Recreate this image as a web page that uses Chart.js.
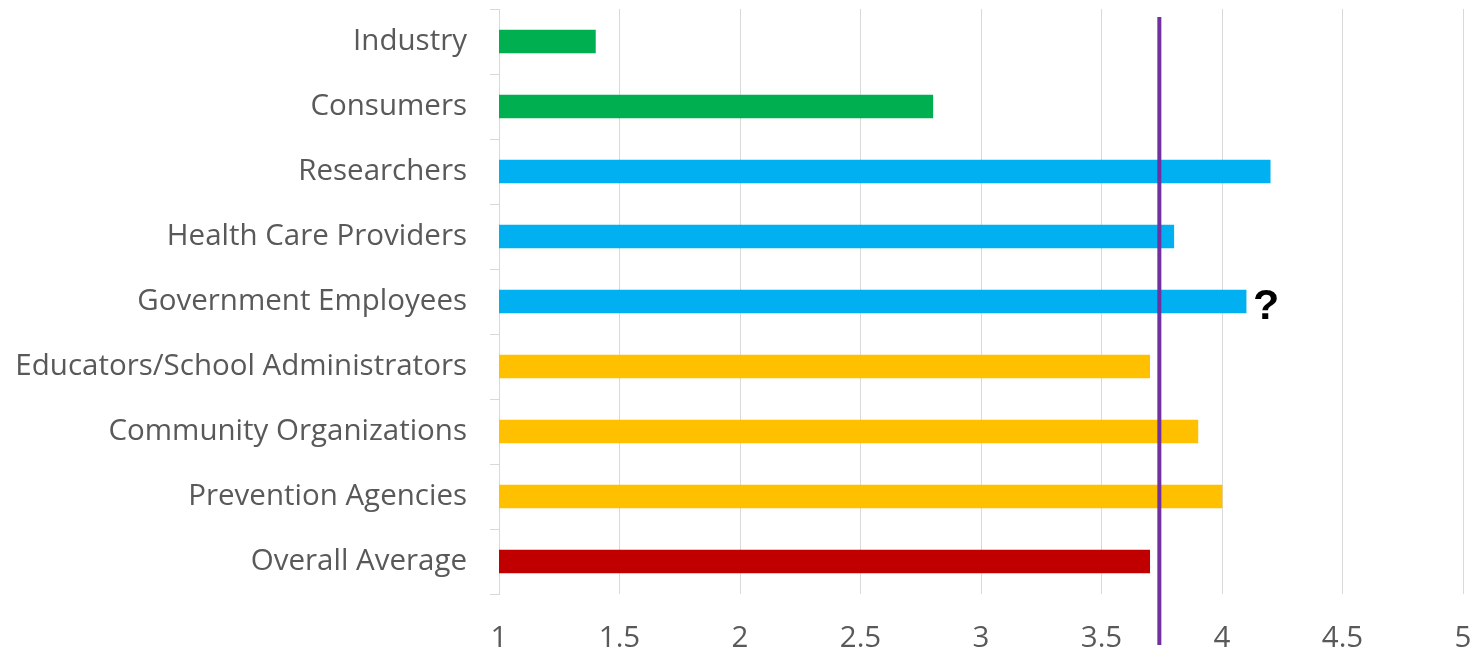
<!DOCTYPE html>
<html>
<head>
<meta charset="utf-8">
<script src="https://cdn.jsdelivr.net/npm/chart.js@4.4.1/dist/chart.umd.min.js"></script>
<style>
  html, body { margin: 0; padding: 0; background: #ffffff; }
  #wrap { width: 1474px; height: 652px; position: relative; }
</style>
</head>
<body>
<div id="wrap"><canvas id="c"></canvas></div>
<script>
// ---- data ----
const categories = [
  "Industry",
  "Consumers",
  "Researchers",
  "Health Care Providers",
  "Government Employees",
  "Educators/School Administrators",
  "Community Organizations",
  "Prevention Agencies",
  "Overall Average"
];
const values = [1.4, 2.8, 4.2, 3.8, 4.1, 3.7, 3.9, 4.0, 3.7];
const referenceLineValue = 3.74;
const questionCategory = "Government Employees";
const questionText = "?";
const xTickValues = [1, 1.5, 2, 2.5, 3, 3.5, 4, 4.5, 5];

// ---- styles ----
const GREEN = "#00B050", BLUE = "#00B0F0", ORANGE = "#FFC000", RED = "#C00000";
const barColors = [GREEN, GREEN, BLUE, BLUE, BLUE, ORANGE, ORANGE, ORANGE, RED];
const FONT = "'Open Sans', Lato, sans-serif";
const TEXT = "#595959";
const GRID = "#d9d9d9";

const overlayPlugin = {
  id: "overlay",
  afterDatasetsDraw(chart) {
    const ctx = chart.ctx;
    const xs = chart.scales.x, ys = chart.scales.y;
    // reference line
    const lx = xs.getPixelForValue(referenceLineValue);
    ctx.save();
    ctx.strokeStyle = "#7030A0";
    ctx.lineWidth = 4;
    ctx.beginPath();
    ctx.moveTo(lx, chart.chartArea.top + 8);
    ctx.lineTo(lx, chart.height - 7);
    ctx.stroke();
    // question mark
    const idx = categories.indexOf(questionCategory);
    const qx = xs.getPixelForValue(values[idx]) + 7;
    const qy = ys.getPixelForValue(idx);
    ctx.fillStyle = "#000000";
    ctx.font = "bold 43px 'Liberation Sans', Arial, sans-serif";
    ctx.textAlign = "left";
    ctx.textBaseline = "middle";
    ctx.fillText(questionText, qx, qy + 6);
    ctx.restore();
  }
};

new Chart(document.getElementById("c"), {
  type: "bar",
  data: {
    labels: categories,
    datasets: [{
      data: values,
      backgroundColor: barColors,
      borderWidth: 0,
      barThickness: 23
    }]
  },
  options: {
    indexAxis: "y",
    responsive: true,
    maintainAspectRatio: false,
    animation: false,
    devicePixelRatio: 1,
    layout: { padding: { top: 9, right: 11, left: 0, bottom: 0 } },
    plugins: { legend: { display: false }, tooltip: { enabled: false } },
    scales: {
      x: {
        type: "linear",
        min: 1,
        max: 5,
        afterBuildTicks(scale) { scale.ticks = xTickValues.map(v => ({ value: v })); },
        afterFit(scale) {
          scale.height = 58;
          scale.paddingLeft = 0; scale.paddingRight = 0;
        },
        grid: { color: GRID, lineWidth: 1, drawTicks: false },
        border: { display: false },
        ticks: {
          color: TEXT,
          font: { family: FONT, size: 29.5 },
          padding: 27,
          callback: v => String(v)
        }
      },
      y: {
        afterFit(scale) {
          scale.width = 499;
          scale.paddingTop = 0; scale.paddingBottom = 0;
        },
        grid: { drawOnChartArea: false, color: GRID, tickLength: 9, offset: true },
        border: { display: true, color: GRID, width: 1 },
        ticks: {
          color: TEXT,
          font: { family: FONT, size: 29.5 },
          padding: 23
        }
      }
    }
  },
  plugins: [overlayPlugin]
});
</script>
</body>
</html>
